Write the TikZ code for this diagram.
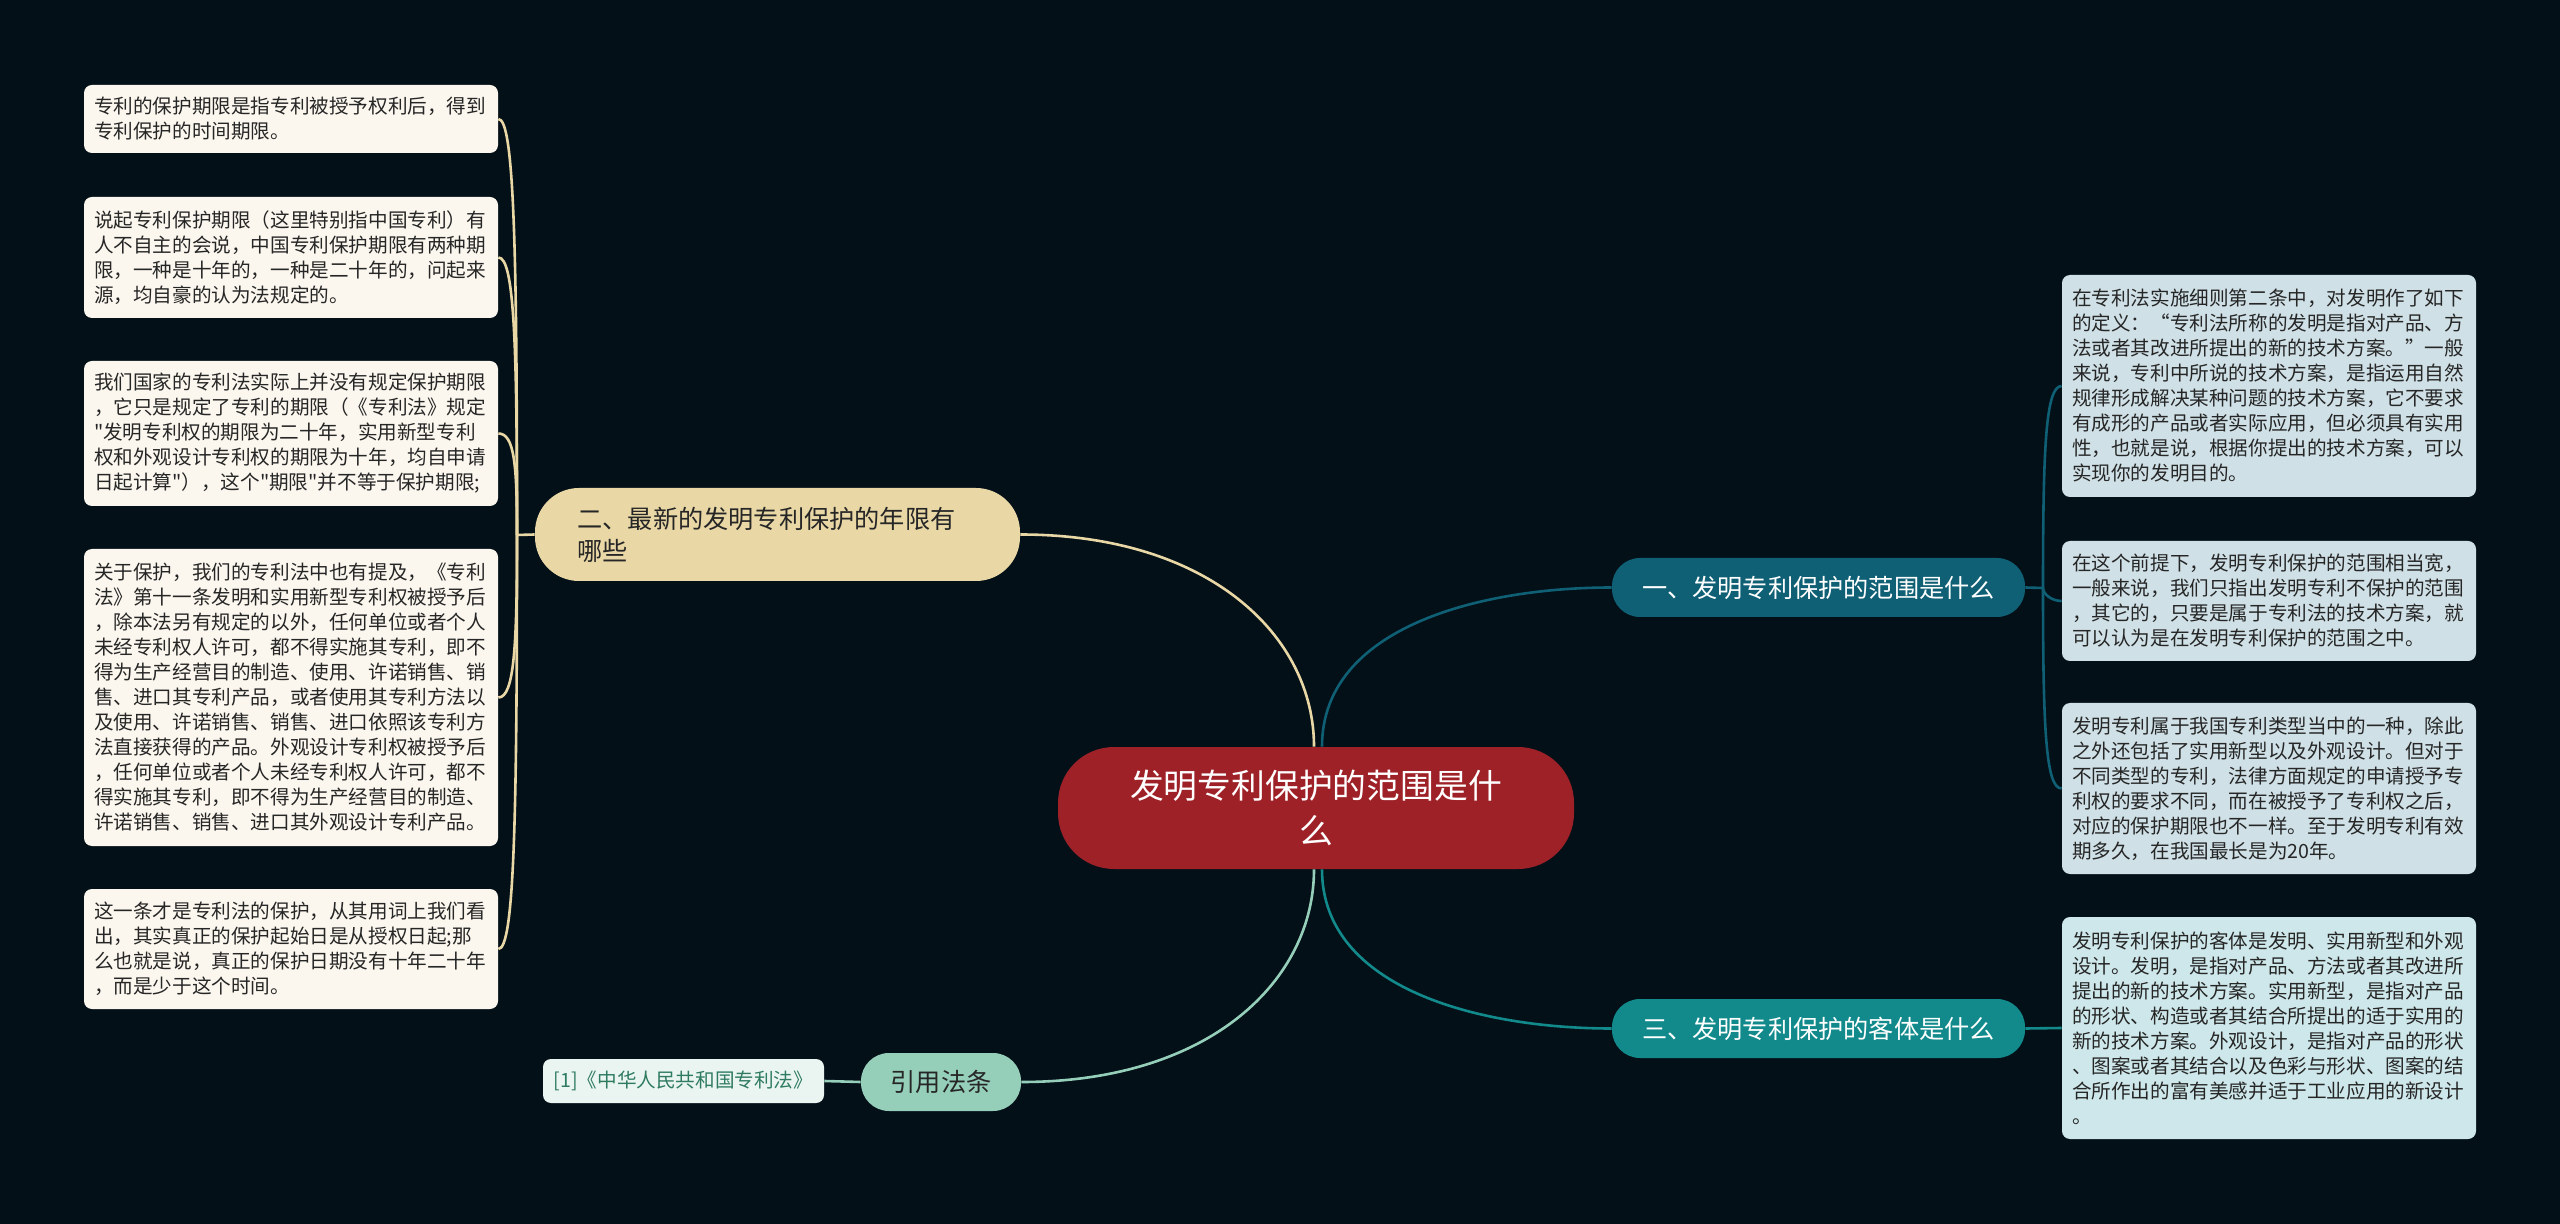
\documentclass[tikz,border=0pt]{standalone}
\usepackage{fontspec}
\newfontfamily\cjk{Noto Sans CJK SC}
\definecolor{NightBg}{RGB}{3,16,24}
\definecolor{RootRed}{RGB}{158,33,40}
\definecolor{SandFill}{RGB}{233,216,166}
\definecolor{CreamFill}{RGB}{251,247,238}
\definecolor{DeepTeal}{RGB}{15,95,117}
\definecolor{SeaTeal}{RGB}{18,138,140}
\definecolor{MintFill}{RGB}{149,207,186}
\definecolor{MistFill}{RGB}{207,224,230}
\definecolor{MistFillB}{RGB}{206,231,234}
\definecolor{PaleMint}{RGB}{234,245,241}
\definecolor{LeafText}{RGB}{46,123,95}
\definecolor{InkText}{RGB}{38,38,38}
\begin{document}
\begin{tikzpicture}[x=0.5pt,y=-0.5pt,
    smallfont/.style={font=\cjk\fontsize{9.8pt}{12.5pt}\selectfont},
    midfont/.style={font=\cjk\fontsize{12.6pt}{16pt}\selectfont},
    leafl/.style={smallfont,fill=CreamFill,text=InkText,rounded corners=4pt,
      text width=197pt,inner xsep=5pt,inner ysep=0pt,align=left},
    leafr/.style={leafl,fill=MistFill},
    pill/.style={midfont,inner sep=0pt,minimum width=206.5pt,minimum height=29.5pt,
      rounded corners=14pt,text=white},
    sandline/.style={draw=SandFill,line width=1.3pt},
    deepline/.style={draw=DeepTeal,line width=1.3pt},
    sealine/.style={draw=SeaTeal,line width=1.3pt},
    mintline/.style={draw=MintFill,line width=1.3pt}]
  \fill[NightBg] (0,0) rectangle (2560,1224);

  % centre
  \node[fill=RootRed,text=white,rounded corners=28pt,inner sep=0pt,
    minimum width=258pt,minimum height=61pt,text width=190pt,align=center,
    font=\cjk\fontsize{16.9pt}{22.5pt}\selectfont] (root) at (1316,808)
    {发明专利保护的范围是什\\么};

  % branches
  \node[midfont,fill=SandFill,text=InkText,rounded corners=22pt,inner xsep=21.25pt,
    inner ysep=0pt,minimum height=46.5pt,text width=200pt,align=left] (sub2) at (777.5,534.5)
    {二、最新的发明专利保护的年限有\\哪些};
  \node[pill,fill=DeepTeal] (sub1) at (1818.5,587.5) {一、发明专利保护的范围是什么};
  \node[pill,fill=SeaTeal] (sub3) at (1818.5,1028.5) {三、发明专利保护的客体是什么};
  \node[pill,fill=MintFill,text=InkText,minimum width=80pt,minimum height=29pt] (sub4)
    at (941,1082) {引用法条};

  % left leaves
  \node[leafl,minimum height=34pt] (lz1) at (291,119)
    {专利的保护期限是指专利被授予权利后，得到\\专利保护的时间期限。};
  \node[leafl,minimum height=60.5pt] (lz2) at (291,257.5)
    {说起专利保护期限（这里特别指中国专利）有\\人不自主的会说，中国专利保护期限有两种期\\限，一种是十年的，一种是二十年的，问起来\\源，均自豪的认为法规定的。};
  \node[leafl,minimum height=72.5pt] (lz3) at (291,433.5)
    {我们国家的专利法实际上并没有规定保护期限\\，它只是规定了专利的期限（《专利法》规定\\"发明专利权的期限为二十年，实用新型专利\\权和外观设计专利权的期限为十年，均自申请\\日起计算"），这个"期限"并不等于保护期限;};
  \node[leafl,minimum height=148.5pt] (lz4) at (291,697.5)
    {关于保护，我们的专利法中也有提及，《专利\\法》第十一条发明和实用新型专利权被授予后\\，除本法另有规定的以外，任何单位或者个人\\未经专利权人许可，都不得实施其专利，即不\\得为生产经营目的制造、使用、许诺销售、销\\售、进口其专利产品，或者使用其专利方法以\\及使用、许诺销售、销售、进口依照该专利方\\法直接获得的产品。外观设计专利权被授予后\\，任何单位或者个人未经专利权人许可，都不\\得实施其专利，即不得为生产经营目的制造、\\许诺销售、销售、进口其外观设计专利产品。};
  \node[leafl,minimum height=60pt] (lz5) at (291,949)
    {这一条才是专利法的保护，从其用词上我们看\\出，其实真正的保护起始日是从授权日起;那\\么也就是说，真正的保护日期没有十年二十年\\，而是少于这个时间。};

  % right leaves
  \node[leafr,minimum height=111pt] (rz1) at (2269,386)
    {在专利法实施细则第二条中，对发明作了如下\\的定义：“专利法所称的发明是指对产品、方\\法或者其改进所提出的新的技术方案。”一般\\来说，专利中所说的技术方案，是指运用自然\\规律形成解决某种问题的技术方案，它不要求\\有成形的产品或者实际应用，但必须具有实用\\性，也就是说，根据你提出的技术方案，可以\\实现你的发明目的。};
  \node[leafr,minimum height=60pt] (rz2) at (2269,601)
    {在这个前提下，发明专利保护的范围相当宽，\\一般来说，我们只指出发明专利不保护的范围\\，其它的，只要是属于专利法的技术方案，就\\可以认为是在发明专利保护的范围之中。};
  \node[leafr,minimum height=85.5pt] (rz3) at (2269,788.5)
    {发明专利属于我国专利类型当中的一种，除此\\之外还包括了实用新型以及外观设计。但对于\\不同类型的专利，法律方面规定的申请授予专\\利权的要求不同，而在被授予了专利权之后，\\对应的保护期限也不一样。至于发明专利有效\\期多久，在我国最长是为20年。};
  \node[leafr,fill=MistFillB,minimum height=111pt] (rz4) at (2269,1028)
    {发明专利保护的客体是发明、实用新型和外观\\设计。发明，是指对产品、方法或者其改进所\\提出的新的技术方案。实用新型，是指对产品\\的形状、构造或者其结合所提出的适于实用的\\新的技术方案。外观设计，是指对产品的形状\\、图案或者其结合以及色彩与形状、图案的结\\合所作出的富有美感并适于工业应用的新设计\\。};

  % reference
  \node[smallfont,fill=PaleMint,text=LeafText,rounded corners=4pt,inner sep=0pt,
    minimum width=140.5pt,minimum height=22pt] (ref1) at (683.5,1081)
    {[1]《中华人民共和国专利法》};

  % connectors from the centre
  \draw[sandline] ([xshift=-1pt]root.north) to[out=90,in=0,out distance=55pt,in distance=95pt] (sub2.east);
  \draw[deepline] ([xshift=3pt]root.north) to[out=90,in=180,out distance=60pt,in distance=65pt] (sub1.west);
  \draw[sealine] ([xshift=3pt]root.south) to[out=-90,in=180,out distance=60pt,in distance=65pt] (sub3.west);
  \draw[mintline] ([xshift=-1pt]root.south) to[out=-90,in=0,out distance=55pt,in distance=95pt] (sub4.east);

  % left fan
  \coordinate (lj) at (517,535);
  \draw[sandline] (sub2.west) -- (lj);
  \foreach \b/\o/\d in {lz1/90/140pt,lz2/90/95pt,lz3/90/35pt,lz4/-90/55pt,lz5/-90/140pt}
    \draw[sandline] (lj) to[out=\o,in=0,out distance=\d,in distance=8pt] (\b.east);

  % right fan
  \coordinate (rj) at (2043,588);
  \draw[deepline] (sub1.east) -- (rj);
  \foreach \b/\o/\d in {rz1/90/70pt,rz3/-90/70pt}
    \draw[deepline] (rj) to[out=\o,in=180,out distance=\d,in distance=8pt] (\b.west);
  \draw[deepline] (rj) to[out=-90,in=180,out distance=3pt,in distance=5pt] (rz2.west);
  \draw[sealine] (sub3.east) -- (rz4.west);
  \draw[mintline] (sub4.west) -- (ref1.east);
\end{tikzpicture}
\end{document}
